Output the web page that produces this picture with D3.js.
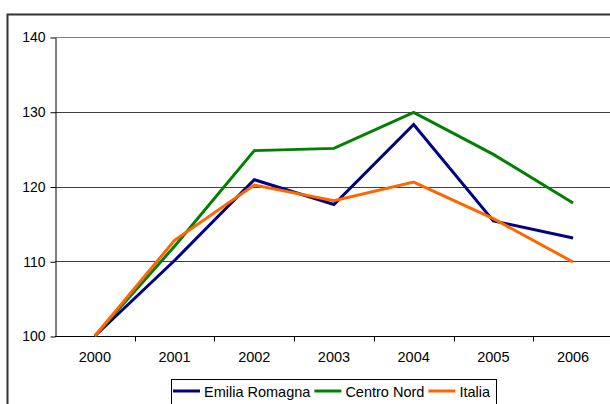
<!DOCTYPE html>
<html>
<head>
<meta charset="utf-8">
<script src="https://cdn.jsdelivr.net/npm/d3@7"></script>
<style>
  html, body { margin: 0; padding: 0; background: #fff; }
  svg { display: block; }
  text { font-family: "Liberation Sans", Arial, sans-serif; fill: #000; }
</style>
</head>
<body>
<svg id="chart" width="610" height="404"></svg>
<script>
const years = ["2000", "2001", "2002", "2003", "2004", "2005", "2006"];
const emiliaRomagna = [100, 110.1, 120.9, 117.6, 128.3, 115.4, 113.1];
const centroNord = [100, 112.0, 124.8, 125.1, 129.9, 124.3, 117.8];
const italia = [100, 112.8, 120.2, 118.1, 120.6, 115.7, 109.9];
const yTicks = [100, 110, 120, 130, 140];
const seriesNames = ["Emilia Romagna", "Centro Nord", "Italia"];
const seriesColors = ["#000080", "#008000", "#FF6600"];

(function () {
const series = [emiliaRomagna, centroNord, italia].map((v, i) => ({
  name: seriesNames[i], color: seriesColors[i], values: v
}));

const svg = d3.select("#chart");

// outer chart border (extends beyond image on right/bottom)
svg.append("rect")
  .attr("x", 7.5).attr("y", 14.5)
  .attr("width", 640).attr("height", 420)
  .attr("fill", "none").attr("stroke", "#333").attr("stroke-width", 2);

const pLeft = 55, pTop = 37, pBottom = 336, band = 79.7;
const x = d3.scaleBand().domain(years).range([pLeft, pLeft + band * years.length]);
const y = d3.scaleLinear().domain([100, 140]).range([pBottom, pTop]);

// gridlines
svg.append("g").selectAll("line")
  .data(yTicks.filter(t => t > 100))
  .join("line")
  .attr("x1", pLeft).attr("x2", 620)
  .attr("y1", d => Math.round(y(d)) + 0.5).attr("y2", d => Math.round(y(d)) + 0.5)
  .attr("stroke", d => d === 140 ? "#808080" : "#404040")
  .attr("stroke-width", 1.2);

// y axis
const yAxis = d3.axisLeft(y).tickValues(yTicks).tickSize(5).tickPadding(5).tickSizeOuter(0);
const gy = svg.append("g").attr("transform", `translate(${pLeft + 0.5},0.5)`).call(yAxis);
gy.select(".domain").attr("stroke", "#000");
gy.selectAll(".tick line").attr("stroke", "#000");
gy.selectAll("text").attr("font-size", "14px")
  .attr("font-family", '"Liberation Sans", Arial, sans-serif').attr("fill", "#000");

// x axis
const xAxis = d3.axisBottom(x).tickSize(0).tickPadding(15).tickSizeOuter(0);
const gx = svg.append("g").attr("transform", `translate(0,${pBottom + 0.5})`).call(xAxis);
gx.select(".domain").attr("stroke", "#000").attr("d", `M${pLeft},0H620`);
gx.selectAll("text").attr("font-size", "14.5px")
  .attr("font-family", '"Liberation Sans", Arial, sans-serif').attr("fill", "#000");
// category boundary ticks
gx.append("g").selectAll("line")
  .data(years)
  .join("line")
  .attr("x1", d => Math.round(x(d) + band) + 0.5)
  .attr("x2", d => Math.round(x(d) + band) + 0.5)
  .attr("y1", 0).attr("y2", 5)
  .attr("stroke", "#000");

// lines
const line = d3.line()
  .x((d, i) => x(years[i]) + x.bandwidth() / 2)
  .y(d => y(d));

svg.append("g").selectAll("path")
  .data(series)
  .join("path")
  .attr("d", d => line(d.values))
  .attr("fill", "none")
  .attr("stroke", d => d.color)
  .attr("stroke-width", 3)
  .attr("stroke-linejoin", "miter");

// legend
const lg = svg.append("g");
lg.append("rect")
  .attr("x", 171.5).attr("y", 379.5)
  .attr("width", 325).attr("height", 40)
  .attr("fill", "#fff").attr("stroke", "#000").attr("stroke-width", 1);

let cx = 173;
series.forEach(s => {
  lg.append("line")
    .attr("x1", cx).attr("x2", cx + 27)
    .attr("y1", 391).attr("y2", 391)
    .attr("stroke", s.color).attr("stroke-width", 3);
  const t = lg.append("text")
    .attr("x", cx + 31).attr("y", 397)
    .attr("font-size", "14.5px")
    .text(s.name);
  cx += 31 + t.node().getComputedTextLength() + 4;
});
})();
</script>
</body>
</html>
